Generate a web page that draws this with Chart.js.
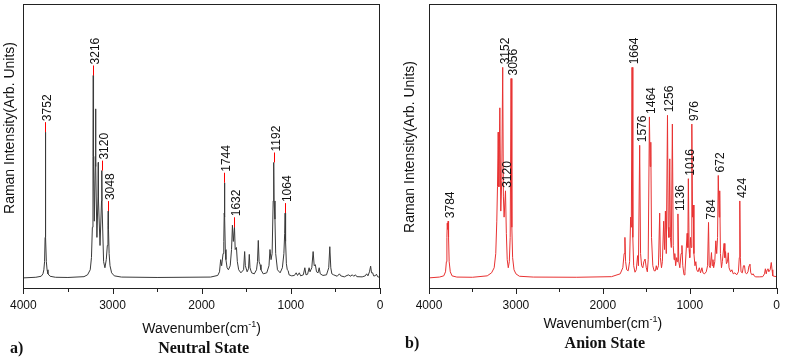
<!DOCTYPE html>
<html lang="en">
  <head>
    <meta charset="UTF-8" />
    <title>Raman spectra - neutral and anion state</title>
  </head>
  <style>
    * {
      margin: 0;
      padding: 0;
    }
    body {
      width: 790px;
      height: 357px;
      background: white;
      position: relative;
      overflow: hidden;
    }
    .panel {
      position: absolute;
      top: 0;
      width: 395px;
      height: 357px;
    }
  </style>
  <body>
    <div class="panel" style="left: 0"><canvas id="neutralChart" width="395" height="357"></canvas></div>
    <div class="panel" style="left: 395px"><canvas id="anionChart" width="395" height="357"></canvas></div>

    <script src="https://cdn.jsdelivr.net/npm/chart.js"></script>

    <script>
      // data block: traced spectra (wavenumber cm-1, intensity arb. units)
      const neutralWn = [
        4000, 3860, 3800, 3780, 3770, 3762, 3756, 3753, 3752, 3751, 3748, 3742, 3734, 3724, 3700,
        3640, 3500, 3320, 3280, 3250, 3236, 3226, 3219, 3216, 3213, 3204, 3193, 3190, 3187, 3175,
        3163, 3160, 3157, 3140, 3123, 3120, 3117, 3100, 3085, 3070, 3058, 3051, 3048, 3045, 3038,
        3028, 3010, 2980, 2900, 2500, 1900, 1820, 1800, 1787, 1776, 1760, 1752, 1747, 1744, 1741,
        1735, 1728, 1715, 1700, 1680, 1665, 1655, 1645, 1632, 1624, 1610, 1600, 1585, 1560, 1530,
        1518, 1510, 1490, 1475, 1466, 1458, 1440, 1410, 1385, 1374, 1365, 1356, 1345, 1335, 1310,
        1270, 1245, 1234, 1222, 1210, 1198, 1192, 1188, 1178, 1170, 1150, 1120, 1095, 1078, 1069,
        1064, 1059, 1050, 1040, 1030, 1020, 990, 960, 940, 925, 905, 890, 860, 843, 830,
        812, 795, 785, 765, 750, 738, 725, 712, 695, 682, 670, 640, 600, 575, 563,
        552, 540, 520, 480, 455, 440, 400, 370, 350, 335, 310, 295, 275, 260, 200,
        165, 150, 135, 118, 105, 95, 82, 72, 55, 40, 25, 0
      ];
      const neutralInt = [
        0, 0.3, 0.8, 2, 4, 8, 20, 50, 72, 50, 20, 8, 4, 2, 0.8,
        0.3, 0.2, 0.6, 1.5, 4, 10, 25, 60, 100, 55, 28, 60, 83.5, 55, 20,
        40, 57, 38, 16, 38, 53, 35, 8, 5, 9, 16, 26, 33, 24, 12,
        6, 2.5, 1, 0.4, 0.2, 0.4, 1.2, 3, 9, 6, 12, 18, 32, 47, 30,
        14, 9, 5, 4, 6, 14, 26, 18, 25, 14, 15, 8, 4, 2.5, 4,
        13, 6, 3, 4.5, 11.6, 5, 2.5, 2, 4, 8, 18.5, 8, 6.5, 4, 2,
        2.5, 6, 14, 9, 12, 38, 57, 38, 29, 12, 4, 2.5, 5, 12, 22,
        32, 18, 7, 4, 3.6, 1.5, 1, 1.2, 2.5, 1.2, 2.5, 1, 1.5, 5, 1.5,
        1.8, 5, 3, 5, 13, 6, 6.5, 3, 2.5, 5, 2, 1.2, 1.5, 5, 15.4,
        5, 2, 1.5, 0.8, 2, 1, 0.5, 1.2, 1.5, 0.8, 1.5, 0.8, 1.5, 0.6, 0.5,
        1, 2, 1, 3, 5.8, 2.5, 2.5, 1, 1, 1.8, 0.5, 0.3
      ];
      const anionWn = [
        4000, 3880, 3830, 3810, 3800, 3794, 3790, 3785, 3780, 3775, 3768, 3755, 3735, 3680, 3500,
        3330, 3280, 3250, 3232, 3220, 3212, 3204, 3196, 3185, 3174, 3163, 3152, 3144, 3136, 3120,
        3110, 3100, 3088, 3076, 3066, 3056, 3047, 3038, 3022, 3000, 2960, 2800, 2300, 1900, 1800,
        1770, 1755, 1746, 1738, 1725, 1708, 1692, 1680, 1672, 1664, 1655, 1645, 1630, 1615, 1600,
        1590, 1576, 1566, 1554, 1540, 1528, 1514, 1500, 1488, 1478, 1464, 1456, 1448, 1440, 1425,
        1410, 1395, 1385, 1375, 1360, 1346, 1338, 1325, 1315, 1300, 1290, 1280, 1270, 1256, 1248,
        1240, 1230, 1222, 1212, 1200, 1190, 1180, 1172, 1162, 1150, 1143, 1136, 1126, 1114, 1100,
        1090, 1080, 1066, 1055, 1030, 1022, 1016, 1007, 1000, 991, 984, 976, 968, 960, 952,
        940, 930, 920, 905, 890, 876, 860, 848, 830, 810, 795, 784, 776, 765, 750,
        742, 733, 725, 712, 700, 690, 680, 672, 662, 655, 647, 635, 625, 605, 596,
        588, 578, 566, 557, 548, 530, 515, 500, 480, 460, 440, 430, 424, 418, 410,
        395, 382, 370, 360, 345, 330, 318, 308, 298, 285, 270, 255, 240, 200, 160,
        140, 130, 120, 110, 100, 90, 75, 62, 53, 45, 30, 0
      ];
      const anionInt = [
        0, 0.4, 1, 3, 8, 20, 27, 24, 28, 20, 8, 3, 1, 0.4, 0.3,
        1, 2.5, 5, 12, 28, 45, 72, 45, 84, 33, 48, 104, 40, 30, 43,
        22, 9, 5, 8, 20, 98.5, 25, 10, 4, 2, 0.8, 0.4, 0.3, 0.6, 2,
        5, 12, 20, 8, 4, 3.5, 8, 30, 25, 104, 20, 6, 2.8, 4, 11,
        6, 65.5, 12, 6, 5, 8, 9.3, 5, 3, 9, 79.5, 55, 67, 20, 6,
        3.5, 3.5, 6, 4, 6, 32, 10, 5, 8, 28, 14, 33, 12, 80.3, 25,
        20, 58.8, 20, 15, 76, 16, 9, 12, 6, 10, 8, 31.6, 8, 5, 12,
        16, 6, 1.5, 3, 22, 15, 49, 14, 10, 20, 15, 76, 30, 36, 12,
        6, 8, 4, 3, 5, 2.5, 5, 2.5, 2, 3, 6, 27.4, 6, 5, 12.5,
        6, 9, 5, 8, 18.3, 12, 20, 50.6, 30, 43, 12, 5, 8, 17, 10,
        13, 7, 8, 12.4, 5, 3, 4, 2, 2.5, 1.5, 3, 10, 38, 10, 3,
        2.5, 6, 6, 2.5, 2, 3, 6, 6.8, 2.5, 1.5, 2, 0.8, 0.5, 0.5, 0.6,
        2, 4.5, 2, 4, 4.5, 3, 4, 7.6, 4, 1, 0.8, 0.6
      ];

      // labelled peaks
      const neutralPeaks = [3752, 3216, 3120, 3048, 1744, 1632, 1192, 1064];
      const neutralPeakInt = [72, 100, 53, 33, 47, 25, 57, 32];
      const anionPeaks = [3784, 3152, 3120, 3056, 1664, 1576, 1464, 1256, 1136, 1016, 976, 784, 672, 424];
      const anionPeakInt = [28, 104, 43, 98.5, 104, 65.5, 79.5, 80.3, 31.6, 49, 76, 27.4, 50.6, 38];

      const xTicks = [4000, 3000, 2000, 1000, 0];

      const FONT = "Arial, 'Liberation Sans', sans-serif";

      // frame, tick marks, peak labels and titles
      const decorations = {
        id: "decorations",
        afterDraw: function (chart, args, opts) {
          const { ctx, chartArea: { top, bottom, left, right } } = chart;
          const xs = chart.scales.x;
          const ys = chart.scales.y;
          ctx.save();

          // frame
          ctx.strokeStyle = "#222";
          ctx.lineWidth = 1;
          ctx.strokeRect(Math.round(left) + 0.5, Math.round(top) + 0.5, Math.round(right - left) - 1, Math.round(bottom - top));

          // tick marks (major every 1000, minor every 500)
          for (let v = 0; v <= 4000; v += 500) {
            const px = Math.round(xs.getPixelForValue(v)) + 0.5;
            const len = v % 1000 === 0 ? 6 : 4;
            ctx.beginPath();
            ctx.moveTo(px, Math.round(bottom));
            ctx.lineTo(px, Math.round(bottom) + len);
            ctx.stroke();
          }

          // peak labels
          ctx.font = "12px " + FONT;
          ctx.fillStyle = "#111";
          opts.peaks.forEach((wn, i) => {
            const px = xs.getPixelForValue(wn);
            const py = ys.getPixelForValue(opts.peakInt[i]);
            let base = py - opts.gap;
            if (opts.tick) {
              ctx.strokeStyle = "#ff0000";
              ctx.beginPath();
              ctx.moveTo(Math.round(px) + 0.5, py);
              ctx.lineTo(Math.round(px) + 0.5, py - opts.tick);
              ctx.stroke();
              base = py - opts.tick - 1;
            }
            ctx.save();
            ctx.translate(px + 6, base);
            ctx.rotate(-Math.PI / 2);
            ctx.textAlign = "left";
            ctx.textBaseline = "alphabetic";
            ctx.fillText(String(wn), 0, 0);
            ctx.restore();
          });

          // y title
          ctx.save();
          ctx.font = "14px " + FONT;
          ctx.translate(opts.yTitleX, opts.yTitleY);
          ctx.rotate(-Math.PI / 2);
          ctx.textAlign = "center";
          ctx.textBaseline = "middle";
          ctx.fillText("Raman Intensity(Arb. Units)", 0, 0);
          ctx.restore();

          // x title with superscript
          const cx = (left + right) / 2;
          ctx.font = "14px " + FONT;
          const main = "Wavenumber(cm";
          const wMain = ctx.measureText(main).width;
          const wClose = ctx.measureText(")").width;
          ctx.font = "9px " + FONT;
          const wSup = ctx.measureText("-1").width;
          let x0 = cx - (wMain + wSup + wClose) / 2;
          ctx.textAlign = "left";
          ctx.textBaseline = "alphabetic";
          ctx.font = "14px " + FONT;
          ctx.fillText(main, x0, opts.xTitleY);
          ctx.font = "9px " + FONT;
          ctx.fillText("-1", x0 + wMain, opts.xTitleY - 6);
          ctx.font = "14px " + FONT;
          ctx.fillText(")", x0 + wMain + wSup, opts.xTitleY);

          // caption
          ctx.font = "bold 16px 'Liberation Serif', 'Times New Roman', serif";
          ctx.fillText(opts.tag, 10, opts.captionY);
          ctx.textAlign = "center";
          ctx.fillText(opts.caption, cx + 2, opts.captionY);

          ctx.restore();
        }
      };

      function makeConfig(wn, inten, color, padding, deco) {
        return {
          type: "line",
          data: {
            datasets: [
              {
                data: wn.map((w, i) => ({ x: w, y: inten[i] })),
                borderColor: color,
                borderWidth: 1,
                pointRadius: 0,
                tension: 0,
                fill: false
              }
            ]
          },
          options: {
            responsive: false,
            animation: false,
            devicePixelRatio: 1,
            layout: { padding },
            scales: {
              x: {
                type: "linear",
                reverse: true,
                min: 0,
                max: 4000,
                grid: { display: false, drawTicks: false },
                border: { display: false },
                afterBuildTicks: (axis) => {
                  axis.ticks = xTicks.map((v) => ({ value: v }));
                },
                ticks: {
                  autoSkip: false,
                  maxRotation: 0,
                  padding: 10,
                  color: "#111",
                  font: { family: FONT, size: 12 },
                  callback: (v) => String(v)
                }
              },
              y: {
                display: false,
                min: -5,
                max: 135.3
              }
            },
            plugins: {
              legend: { display: false },
              tooltip: { enabled: false },
              decorations: deco
            }
          },
          plugins: [decorations]
        };
      }

      // init render block
      new Chart(
        document.getElementById("neutralChart"),
        makeConfig(neutralWn, neutralInt, "#3a3a3a", { left: 23, right: 15, top: 4, bottom: 34.6 }, {
          peaks: neutralPeaks,
          peakInt: neutralPeakInt,
          tick: 10,
          gap: 3,
          yTitleX: 10,
          yTitleY: 128,
          xTitleY: 333,
          tag: "a)",
          caption: "Neutral State",
          captionY: 353
        })
      );

      new Chart(
        document.getElementById("anionChart"),
        makeConfig(anionWn, anionInt, "rgb(232,50,50)", { left: 34, right: 4, top: 4, bottom: 34.6 }, {
          peaks: anionPeaks,
          peakInt: anionPeakInt,
          tick: 0,
          gap: 3,
          yTitleX: 15,
          yTitleY: 147,
          xTitleY: 328,
          tag: "b)",
          caption: "Anion State",
          captionY: 348
        })
      );
    </script>
  </body>
</html>
